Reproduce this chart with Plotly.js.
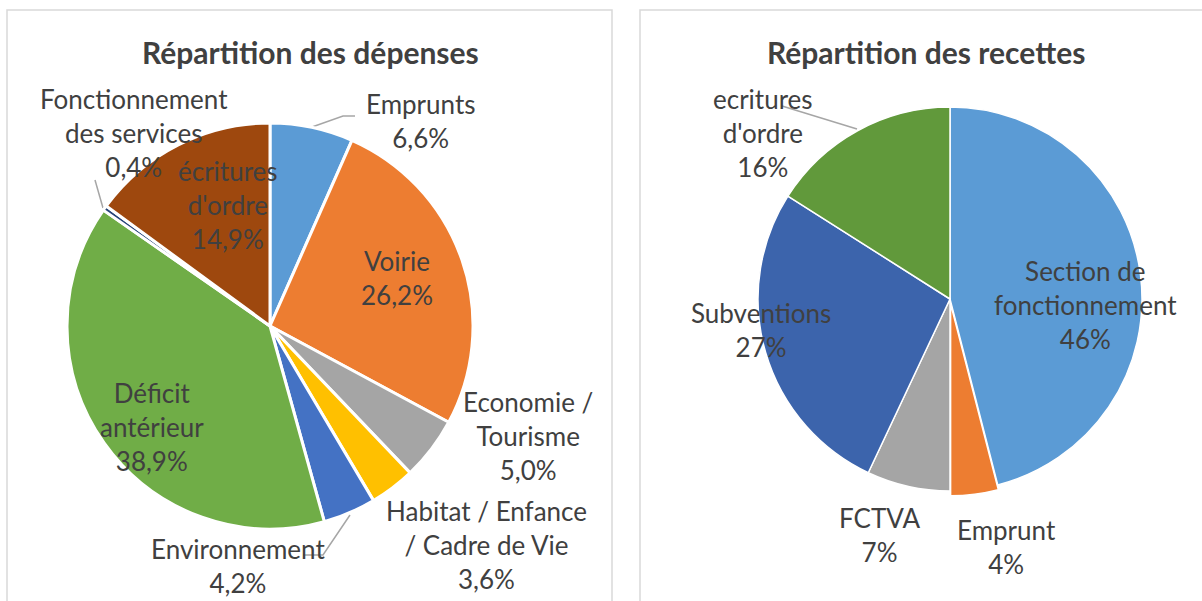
<!DOCTYPE html>
<html>
<head>
<meta charset="utf-8">
<script src="https://cdn.plot.ly/plotly-3.0.1.min.js"></script>
<style>html,body{margin:0;padding:0;background:#fff;}#chart{width:1202px;height:601px;}</style>
</head>
<body>
<div id="chart"></div>
<script>
// ---- Data ----
const depensesTitle = 'Répartition des dépenses';
const depensesCategories = ['Emprunts', 'Voirie', 'Economie / Tourisme', 'Habitat / Enfance / Cadre de Vie', 'Environnement', 'Déficit antérieur', 'Fonctionnement des services', "écritures d'ordre"];
const depensesValues = [6.6, 26.2, 5.0, 3.6, 4.2, 38.9, 0.4, 14.9];
const depensesColors = ['#5B9BD5', '#ED7D31', '#A5A5A5', '#FFC000', '#4472C4', '#70AD47', '#264478', '#9E480E'];

const recettesTitle = 'Répartition des recettes';
const recettesCategories = ['Section de fonctionnement', 'Emprunt', 'FCTVA', 'Subventions', "ecritures d'ordre"];
const recettesValues = [46, 4, 7, 27, 16];
const recettesColors = ['#5B9BD5', '#ED7D31', '#A5A5A5', '#3C64AC', '#61993B'];

// ---- Layout helpers ----
const W = 1202, H = 601;
const px = x => x / W;
const py = y => 1 - y / H;
const textColor = '#404040';
const labelFont = {family: 'Lato, "Open Sans", sans-serif', size: 26, color: textColor};

// how each label is wrapped in the picture
const wrapMap = {
  'Economie / Tourisme': 'Economie /<br>Tourisme',
  'Habitat / Enfance / Cadre de Vie': 'Habitat / Enfance<br>/ Cadre de Vie',
  'Déficit antérieur': 'Déficit<br>antérieur',
  'Fonctionnement des services': 'Fonctionnement<br>des services',
  "écritures d'ordre": "écritures<br>d'ordre",
  'Section de fonctionnement': 'Section de<br>fonctionnement',
  "ecritures d'ordre": "ecritures<br>d'ordre"
};
const wrap = s => wrapMap[s] || s;
const fmt1 = v => v.toFixed(1).replace('.', ',') + '%';
const fmt0 = v => Math.round(v) + '%';

// label block centres (pixels)
const depPos = [[420,121],[397,278],[528,436],[487,545],[238,566],[152,427],[134,133],[228,205]];
const recPos = [[1085,305],[1006,547],[879,535],[761,330],[763,133]];

// pies (centre, radius in pixels); recettes radius enlarged to compensate for pull
const recPull = 0.025;
const depC = [270, 326, 203];
const recC = [950, 299, 192 * (1 + recPull)];
const dom = c => ({x: [px(c[0]-c[2]), px(c[0]+c[2])], y: [py(c[1]+c[2]), py(c[1]-c[2])]});

const traces = [
  {
    type: 'pie', values: depensesValues, labels: depensesCategories,
    marker: {colors: depensesColors, line: {color: '#ffffff', width: 3}},
    sort: false, direction: 'clockwise', rotation: 0,
    textinfo: 'none', hoverinfo: 'label+percent',
    domain: dom(depC), showlegend: false
  },
  {
    type: 'pie', values: recettesValues, labels: recettesCategories,
    marker: {colors: recettesColors, line: {color: '#ffffff', width: 1.5}},
    pull: [0, recPull, 0, 0, 0],
    sort: false, direction: 'clockwise', rotation: 0,
    textinfo: 'none', hoverinfo: 'label+percent',
    domain: dom(recC), showlegend: false
  }
];

const annotations = [];
depensesCategories.forEach((c, i) => {
  annotations.push({xref: 'paper', yref: 'paper', x: px(depPos[i][0]), y: py(depPos[i][1]),
    xanchor: 'center', yanchor: 'middle', showarrow: false, align: 'center',
    text: wrap(c) + '<br>' + fmt1(depensesValues[i]), font: labelFont});
});
recettesCategories.forEach((c, i) => {
  annotations.push({xref: 'paper', yref: 'paper', x: px(recPos[i][0]), y: py(recPos[i][1]),
    xanchor: 'center', yanchor: 'middle', showarrow: false, align: 'center',
    text: wrap(c) + '<br>' + fmt0(recettesValues[i]), font: labelFont});
});
const titleFont = {family: 'Lato, "Open Sans", sans-serif', size: 30, color: textColor, weight: 'bold'};
annotations.push({xref: 'paper', yref: 'paper', x: px(310), y: py(52), xanchor: 'center', yanchor: 'middle',
  showarrow: false, text: '<b>' + depensesTitle + '</b>', font: titleFont});
annotations.push({xref: 'paper', yref: 'paper', x: px(926), y: py(52), xanchor: 'center', yanchor: 'middle',
  showarrow: false, text: '<b>' + recettesTitle + '</b>', font: titleFont});

const leader = pts => ({type: 'path', xref: 'paper', yref: 'paper',
  path: 'M' + pts.map(p => px(p[0]) + ',' + py(p[1])).join(' L'),
  line: {color: '#A6A6A6', width: 1.5}, layer: 'below'});

const shapes = [
  {type: 'rect', xref: 'paper', yref: 'paper', x0: px(7), x1: px(612), y0: py(640), y1: py(10),
    line: {color: '#D9D9D9', width: 1.5}, fillcolor: 'rgba(0,0,0,0)', layer: 'below'},
  {type: 'rect', xref: 'paper', yref: 'paper', x0: px(640), x1: px(1240), y0: py(640), y1: py(10),
    line: {color: '#D9D9D9', width: 1.5}, fillcolor: 'rgba(0,0,0,0)', layer: 'below'},
  leader([[312,127],[343,116],[355,116]]),
  leader([[95,180],[103,208]]),
  leader([[350,515],[323,555],[303,555]]),
  leader([[782,106],[857,129]])
];

const layout = {
  width: W, height: H,
  margin: {l: 0, r: 0, t: 0, b: 0},
  paper_bgcolor: '#ffffff', plot_bgcolor: '#ffffff',
  showlegend: false,
  annotations: annotations,
  shapes: shapes
};

Plotly.newPlot('chart', traces, layout, {displayModeBar: false, staticPlot: true});
</script>
</body>
</html>
